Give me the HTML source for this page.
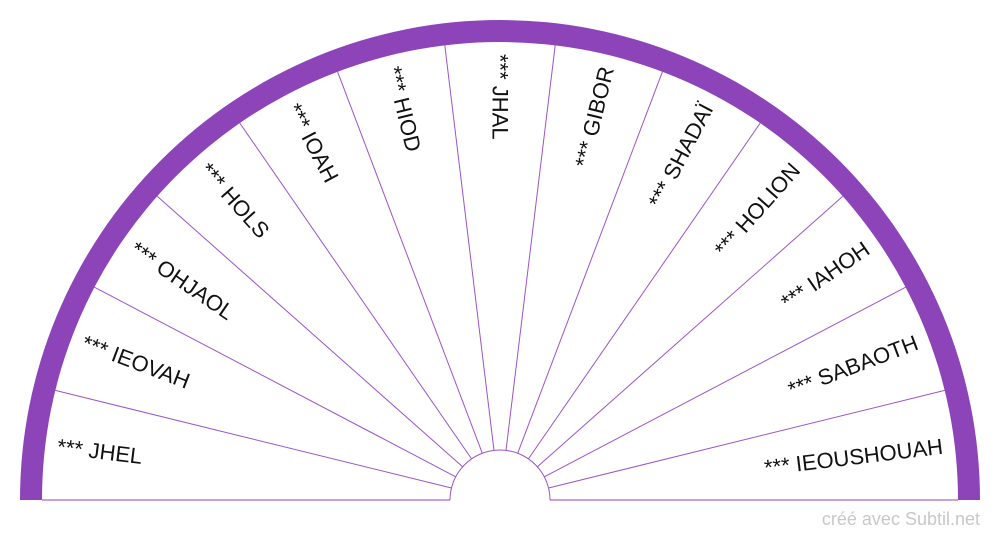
<!DOCTYPE html>
<html><head><meta charset="utf-8"><style>
html,body{margin:0;padding:0;background:#fff;overflow:hidden;}
svg{display:block;}
text{font-family:"Liberation Sans",Arial,sans-serif;}
</style></head><body>
<svg width="1000" height="540" viewBox="0 0 1000 540" xmlns="http://www.w3.org/2000/svg">
<path d="M20,500 A480,480 0 0 1 980,500 L958,500 A458,458 0 0 0 42,500 Z" fill="#8e44b9"/>
<line x1="42" y1="500" x2="450" y2="500" stroke="#c9a0de" stroke-width="2"/>
<line x1="550" y1="500" x2="958" y2="500" stroke="#c9a0de" stroke-width="2"/>
<path d="M450,500 A50,50 0 0 1 550,500" fill="none" stroke="#9b55c8" stroke-width="1"/>
<g stroke="#9b55c8" stroke-width="1">
<line x1="548.5" y1="488.0" x2="944.7" y2="390.4"/>
<line x1="544.3" y1="476.8" x2="905.6" y2="287.2"/>
<line x1="537.4" y1="466.8" x2="842.8" y2="196.3"/>
<line x1="528.4" y1="458.9" x2="760.2" y2="123.1"/>
<line x1="517.7" y1="453.2" x2="662.4" y2="71.8"/>
<line x1="506.0" y1="450.4" x2="555.2" y2="45.3"/>
<line x1="494.0" y1="450.4" x2="444.8" y2="45.3"/>
<line x1="482.3" y1="453.2" x2="337.6" y2="71.8"/>
<line x1="471.6" y1="458.9" x2="239.8" y2="123.1"/>
<line x1="462.6" y1="466.8" x2="157.2" y2="196.3"/>
<line x1="455.7" y1="476.8" x2="94.4" y2="287.2"/>
<line x1="451.5" y1="488.0" x2="55.3" y2="390.4"/>
</g>
<g font-size="22" fill="#111" dominant-baseline="central">
<text transform="translate(500,500) rotate(-173.08) translate(446,0) rotate(180)">*** JHEL</text>
<text transform="translate(500,500) rotate(-159.23) translate(446,0) rotate(180)">*** IEOVAH</text>
<text transform="translate(500,500) rotate(-145.38) translate(446,0) rotate(180)">*** OHJAOL</text>
<text transform="translate(500,500) rotate(-131.54) translate(446,0) rotate(180)">*** HOLS</text>
<text transform="translate(500,500) rotate(-117.69) translate(446,0) rotate(180)">*** IOAH</text>
<text transform="translate(500,500) rotate(-103.85) translate(446,0) rotate(180)">*** HIOD</text>
<text transform="translate(500,500) rotate(-90) translate(446,0) rotate(180)">*** JHAL</text>
</g>
<g font-size="22" fill="#111" dominant-baseline="central" text-anchor="end">
<text transform="translate(500,500) rotate(-76.15) translate(446,0)">*** GIBOR</text>
<text transform="translate(500,500) rotate(-62.31) translate(446,0)">*** SHADAÏ</text>
<text transform="translate(500,500) rotate(-48.46) translate(446,0)">*** HOLION</text>
<text transform="translate(500,500) rotate(-34.62) translate(446,0)">*** IAHOH</text>
<text transform="translate(500,500) rotate(-20.77) translate(446,0)">*** SABAOTH</text>
<text transform="translate(500,500) rotate(-6.92) translate(446,0)">*** IEOUSHOUAH</text>
</g>
<text x="980" y="525" font-size="18" fill="#c8c8c8" text-anchor="end">créé avec Subtil.net</text>
</svg>
</body></html>
